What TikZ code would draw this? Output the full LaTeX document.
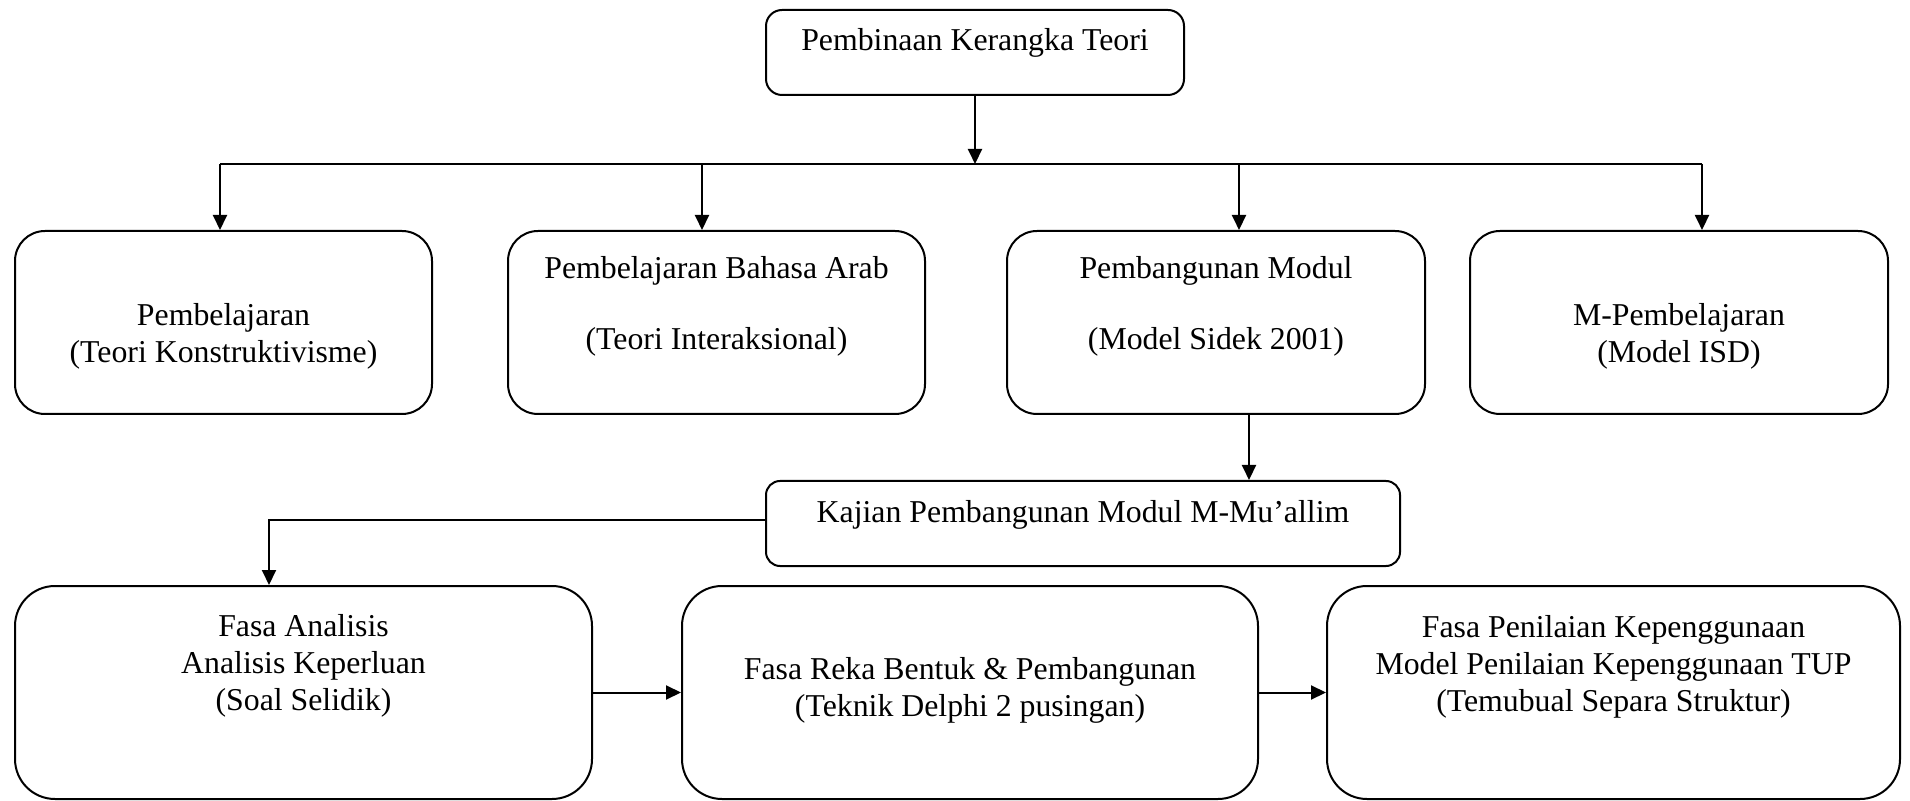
\documentclass[tikz,border=0pt]{standalone}
\usepackage{fontspec}
\setmainfont{Liberation Serif}
\usetikzlibrary{arrows.meta}

\tikzset{
    kotak/.style={draw, line width=1pt, inner sep=0pt, minimum width=#1},
    teks/.style={align=center, inner sep=0pt, font=\fontsize{15.9pt}{18.6pt}\selectfont},
    panah/.style={line width=1pt, -{Triangle[length=7.5pt, width=7pt]}},
}

\begin{document}
\begin{tikzpicture}[x=0.5pt, y=-0.5pt]
    \useasboundingbox (0, 0) rectangle (1910, 801);
    \node[kotak=209pt, minimum height=42.5pt, rounded corners=8pt] (atas) at (975, 52.5) {};
    \node[teks] (tatas) at (975, 43) {Pembinaan Kerangka Teori};

    \node[kotak=208.5pt, minimum height=91.5pt, rounded corners=15pt] (b1) at (223.5, 322.5) {};
    \node[kotak=208.5pt, minimum height=91.5pt, rounded corners=15pt] (b2) at (716.5, 322.5) {};
    \node[kotak=209pt, minimum height=91.5pt, rounded corners=15pt] (b3) at (1216, 322.5) {};
    \node[kotak=209pt, minimum height=91.5pt, rounded corners=15pt] (b4) at (1679, 322.5) {};
    \node[teks] (tb1) at (223.5, 336) {Pembelajaran\\(Teori Konstruktivisme)};
    \node[teks] (tb2) at (716.5, 306) {Pembelajaran Bahasa Arab\\[17pt](Teori Interaksional)};
    \node[teks] (tb3) at (1216, 306) {Pembangunan Modul\\[17pt](Model Sidek 2001)};
    \node[teks] (tb4) at (1679, 336) {M-Pembelajaran\\(Model ISD)};

    \node[kotak=317pt, minimum height=42.5pt, rounded corners=7pt] (kajian) at (1083, 523.5) {};
    \node[teks] (tkajian) at (1083, 515) {Kajian Pembangunan Modul M-Mu’allim};

    \node[kotak=288.5pt, minimum height=106.5pt, rounded corners=20pt] (f1) at (303.5, 692.5) {};
    \node[kotak=288pt, minimum height=106.5pt, rounded corners=20pt] (f2) at (970, 692.5) {};
    \node[kotak=286.5pt, minimum height=106.5pt, rounded corners=20pt] (f3) at (1613.5, 692.5) {};
    \node[teks] (tf1) at (303.5, 666) {Fasa Analisis\\Analisis Keperluan\\(Soal Selidik)};
    \node[teks] (tf2) at (970, 690) {Fasa Reka Bentuk \& Pembangunan\\(Teknik Delphi 2 pusingan)};
    \node[teks] (tf3) at (1613.5, 667) {Fasa Penilaian Kepenggunaan\\Model Penilaian Kepenggunaan TUP\\(Temubual Separa Struktur)};

    \coordinate (cabang) at (975, 164);
    \coordinate (t1) at (220, 164);
    \coordinate (t2) at (702, 164);
    \coordinate (t3) at (1239, 164);
    \coordinate (t4) at (1702, 164);
    \coordinate (k) at (1249, 414);
    \coordinate (turun) at (269, 520);

    \draw[panah] (atas) -- (cabang);
    \draw[line width=1pt] (t1) -- (t4);
    \foreach \i in {1,...,4}
        \draw[panah] (t\i) -- (t\i |- b\i.north);
    \draw[panah] (k) -- (k |- kajian.north);
    \draw[panah] (kajian.west |- turun) -- (turun) -- (turun |- f1.north);
    \draw[panah] (f1) -- (f2);
    \draw[panah] (f2) -- (f3);
\end{tikzpicture}
\end{document}
